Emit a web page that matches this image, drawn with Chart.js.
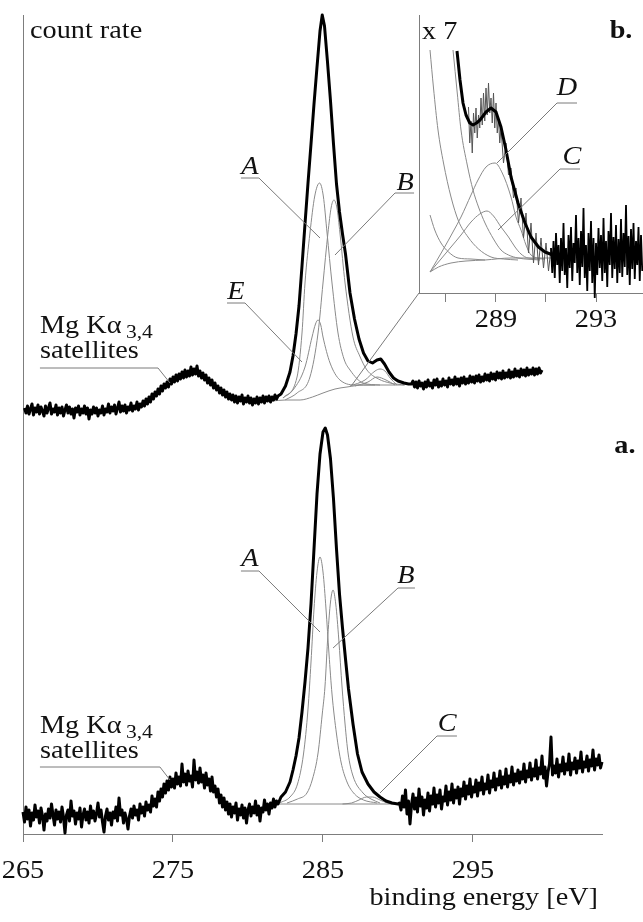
<!DOCTYPE html>
<html>
<head>
<meta charset="utf-8">
<script src="https://cdn.jsdelivr.net/npm/chart.js@4.4.1/dist/chart.umd.min.js"></script>
<style>
    html, body { margin: 0; padding: 0; background: #fff; }
    #wrap { position: relative; width: 643px; height: 922px; }
    #main { position: absolute; left: 0; top: 0; }
    #inset { position: absolute; left: 400px; top: 0; }
</style>
</head>
<body>
<div id="wrap">
    <canvas id="main" width="643" height="922"></canvas>
    <canvas id="inset" width="243" height="340"></canvas>
</div>
<script>
(function () {
    "use strict";

    // Axis ticks
    var energyTicks = [265, 275, 285, 295];
    var insetTicks = [287, 289, 291, 293];
    var insetTickLabels = [289, 293];

    // Spectrum b (upper trace): [binding energy eV, count rate]
    var upperCounts = [
        [265.1,426],[265.2,421],[265.3,428],[265.4,420],[265.5,425],[265.6,430],[265.7,419],[265.8,426],[265.9,422],[266.0,429],
        [266.1,420],[266.2,427],[266.3,423],[266.4,418],[266.5,428],[266.6,421],[266.7,426],[266.8,431],[266.9,420],[267.0,425],
        [267.1,422],[267.2,429],[267.3,419],[267.4,426],[267.5,421],[267.6,427],[267.7,418],[267.8,424],[267.9,429],[268.0,421],
        [268.1,427],[268.2,420],[268.3,425],[268.4,416],[268.5,426],[268.6,422],[268.7,428],[268.8,419],[268.9,425],[269.0,421],
        [269.1,428],[269.2,420],[269.3,426],[269.4,415],[269.5,424],[269.6,420],[269.7,427],[269.8,421],[269.9,426],[270.0,418],
        [270.1,424],[270.2,421],[270.3,428],[270.4,419],[270.5,425],[270.6,422],[270.7,430],[270.8,421],[270.9,427],[271.0,423],
        [271.1,429],[271.2,420],[271.3,426],[271.4,432],[271.5,422],[271.6,428],[271.7,423],[271.8,429],[271.9,421],[272.0,427],
        [272.1,424],[272.2,431],[272.3,423],[272.4,428],[272.5,425],[272.6,432],[272.7,424],[272.8,430],[272.9,427],[273.0,433],
        [273.1,428],[273.2,435],[273.3,430],[273.4,437],[273.5,432],[273.6,440],[273.7,435],[273.8,442],[273.9,438],[274.0,445],
        [274.1,440],[274.2,448],[274.3,443],[274.4,450],[274.5,446],[274.6,452],[274.7,447],[274.8,455],[274.9,450],[275.0,457],
        [275.1,452],[275.2,459],[275.3,453],[275.4,460],[275.5,455],[275.6,462],[275.7,456],[275.8,464],[275.9,457],[276.0,463],
        [276.1,458],[276.2,467],[276.3,459],[276.4,465],[276.5,460],[276.6,468],[276.7,458],[276.8,463],[276.9,456],[277.0,461],
        [277.1,454],[277.2,459],[277.3,451],[277.4,456],[277.5,449],[277.6,454],[277.7,446],[277.8,451],[277.9,444],[278.0,448],
        [278.1,441],[278.2,446],[278.3,439],[278.4,444],[278.5,437],[278.6,442],[278.7,435],[278.8,440],[278.9,434],[279.0,439],
        [279.1,432],[279.2,438],[279.3,431],[279.4,437],[279.5,433],[279.6,439],[279.7,430],[279.8,436],[279.9,432],[280.0,438],
        [280.1,431],[280.2,436],[280.3,429],[280.4,435],[280.5,431],[280.6,437],[280.7,430],[280.8,436],[280.9,432],[281.0,438],
        [281.1,431],[281.2,437],[281.3,433],[281.4,438],[281.5,432],[281.6,437],[281.7,434],[281.8,439],[281.9,435],[282.0,438],
        [282.2,440],[282.5,448],[282.8,462],[283.0,478],[283.2,500],[283.4,528],[283.6,568],[283.8,610],[284.0,651],[284.2,690],
        [284.4,730],[284.6,767],[284.8,803],[284.95,819],[285.1,808],[285.3,772],[285.5,733],[285.7,690],[285.9,650],[286.1,622],
        [286.3,600],[286.5,580],[286.8,541],[287.1,515],[287.4,495],[287.7,481],[288.0,473],[288.3,471],[288.6,474],[288.85,475],
        [289.1,470],[289.4,462],[289.7,456],[290.0,453],[290.4,451],[290.7,450],
        [290.9,450],[291.0,453],[291.1,447],[291.2,452],[291.3,446],[291.4,453],[291.5,448],[291.6,451],[291.7,445],[291.8,452],
        [291.9,447],[292.0,454],[292.1,448],[292.2,451],[292.3,446],[292.4,454],[292.5,449],[292.6,455],[292.7,447],[292.8,452],
        [292.9,448],[293.0,455],[293.1,449],[293.2,453],[293.3,447],[293.4,456],[293.5,450],[293.6,454],[293.7,449],[293.8,457],
        [293.9,450],[294.0,455],[294.1,448],[294.2,456],[294.3,451],[294.4,457],[294.5,450],[294.6,455],[294.7,451],[294.8,458],
        [294.9,452],[295.0,457],[295.1,451],[295.2,458],[295.3,453],[295.4,459],[295.5,452],[295.6,457],[295.7,453],[295.8,460],
        [295.9,454],[296.0,459],[296.1,453],[296.2,461],[296.3,455],[296.4,460],[296.5,454],[296.6,462],[296.7,456],[296.8,461],
        [296.9,455],[297.0,463],[297.1,456],[297.2,461],[297.3,457],[297.4,464],[297.5,456],[297.6,462],[297.7,457],[297.8,465],
        [297.9,458],[298.0,463],[298.1,457],[298.2,465],[298.3,459],[298.4,464],[298.5,458],[298.6,466],[298.7,459],[298.8,464],
        [298.9,460],[299.0,466],[299.1,459],[299.2,465],[299.3,460],[299.4,466],[299.5,461],[299.6,464]
    ];
    var upperA = [[282.33,436],[283.27,457],[283.6,501],[283.8,551],[284.13,601],[284.45,638],[284.77,651],[285.02,638],[285.27,601],[285.6,551],[286.0,501],[286.4,475],[286.8,464],[287.67,451],[288.8,449]];
    var upperB = [[282.47,434],[283.27,441],[284.13,457],[284.67,501],[285.0,551],[285.33,601],[285.55,627],[285.73,634],[285.93,626],[286.13,601],[286.47,551],[287.0,497],[287.45,478],[287.93,464],[288.7,455],[289.47,451],[290.47,449]];
    var upperE = [[282.33,436],[283.0,444],[283.8,467],[284.27,497],[284.5,510],[284.67,514],[284.85,509],[285.0,497],[285.47,471],[286.13,454],[287.27,449],[288.47,449]];
    var upperC = [[287.13,448],[288.0,452],[288.6,457],[289.2,454],[289.8,449]];
    var upperD = [[286.8,448],[287.8,454],[288.47,463],[288.8,465],[289.13,463],[289.47,456],[289.93,449]];
    var upperBackground = [[281.6,433],[282.5,434],[283.47,434],[284.3,437],[285.0,441],[285.8,445],[286.6,447],[287.7,449],[289.0,449],[290.4,449]];

    // Spectrum a (lower trace)
    var lowerCounts = [
        [265.0,22],[265.1,12],[265.2,27],[265.3,15],[265.4,24],[265.5,8],[265.6,21],[265.7,14],[265.8,29],[265.9,17],
        [266.0,23],[266.1,11],[266.2,26],[266.3,18],[266.4,4],[266.5,20],[266.6,13],[266.7,25],[266.8,16],[266.9,30],
        [267.0,19],[267.1,9],[267.2,24],[267.3,15],[267.4,22],[267.5,12],[267.6,27],[267.7,17],[267.8,1],[267.9,19],
        [268.0,24],[268.1,13],[268.2,33],[268.3,18],[268.4,23],[268.5,10],[268.6,21],[268.7,15],[268.8,26],[268.9,7],
        [269.0,19],[269.1,25],[269.2,14],[269.3,22],[269.4,11],[269.5,28],[269.6,16],[269.7,23],[269.8,13],[269.9,20],
        [270.0,31],[270.1,17],[270.2,24],[270.3,12],[270.4,2],[270.5,18],[270.6,25],[270.7,14],[270.8,21],[270.9,9],
        [271.0,22],[271.1,16],[271.2,27],[271.3,13],[271.4,36],[271.5,19],[271.6,24],[271.7,11],[271.8,21],[271.9,15],
        [272.0,5],[272.1,18],[272.2,25],[272.3,16],[272.4,28],[272.5,19],[272.6,24],[272.7,14],[272.8,30],[272.9,21],
        [273.0,27],[273.1,18],[273.2,32],[273.3,24],[273.4,29],[273.5,22],[273.6,38],[273.7,28],[273.8,35],[273.9,27],
        [274.0,42],[274.1,33],[274.2,45],[274.3,37],[274.4,50],[274.5,41],[274.6,53],[274.7,44],[274.8,57],[274.9,47],
        [275.0,55],[275.1,46],[275.2,61],[275.3,50],[275.4,57],[275.5,48],[275.6,70],[275.7,52],[275.8,60],[275.9,49],
        [276.0,63],[276.1,53],[276.2,58],[276.3,47],[276.4,74],[276.5,54],[276.6,62],[276.7,51],[276.8,66],[276.9,52],
        [277.0,59],[277.1,46],[277.2,61],[277.3,49],[277.4,55],[277.5,43],[277.6,57],[277.7,42],[277.8,48],[277.9,37],
        [278.0,45],[278.1,31],[278.2,39],[278.3,27],[278.4,36],[278.5,24],[278.6,32],[278.7,20],[278.8,30],[278.9,17],
        [279.0,27],[279.1,21],[279.2,31],[279.3,14],[279.4,25],[279.5,19],[279.6,29],[279.7,16],[279.8,26],[279.9,11],
        [280.0,24],[280.1,30],[280.2,18],[280.3,27],[280.4,21],[280.5,33],[280.6,19],[280.7,28],[280.8,13],[280.9,26],
        [281.0,22],[281.1,34],[281.2,24],[281.3,30],[281.4,20],[281.5,31],[281.6,26],[281.7,35],[281.8,27],[281.9,33],[282.0,30],
        [282.2,37],[282.5,42],[282.8,52],[283.0,64],[283.2,78],[283.4,96],[283.6,122],[283.8,152],[284.0,186],[284.2,230],
        [284.4,285],[284.6,340],[284.8,380],[285.0,402],[285.15,406],[285.3,399],[285.5,375],[285.7,335],[285.9,285],[286.1,240],
        [286.3,206],[286.5,175],[286.7,145],[287.0,110],[287.3,80],[287.6,62],[288.0,50],[288.4,42],[288.8,37],[289.2,33],
        [289.6,31],[290.0,30],
        [290.1,31],[290.2,24],[290.3,38],[290.4,27],[290.5,44],[290.6,20],[290.7,33],[290.8,10],[290.9,29],[291.0,40],
        [291.1,25],[291.2,36],[291.3,22],[291.4,45],[291.5,28],[291.6,37],[291.7,19],[291.8,34],[291.9,26],[292.0,41],
        [292.1,23],[292.2,38],[292.3,30],[292.4,46],[292.5,27],[292.6,39],[292.7,31],[292.8,44],[292.9,25],[293.0,37],
        [293.1,33],[293.2,48],[293.3,29],[293.4,42],[293.5,34],[293.6,50],[293.7,31],[293.8,44],[293.9,36],[294.0,47],
        [294.1,30],[294.2,45],[294.3,38],[294.4,52],[294.5,35],[294.6,48],[294.7,40],[294.8,55],[294.9,37],[295.0,47],
        [295.1,42],[295.2,54],[295.3,38],[295.4,51],[295.5,44],[295.6,57],[295.7,40],[295.8,50],[295.9,45],[296.0,59],
        [296.1,41],[296.2,53],[296.3,47],[296.4,61],[296.5,44],[296.6,55],[296.7,49],[296.8,63],[296.9,46],[297.0,57],
        [297.1,50],[297.2,65],[297.3,47],[297.4,58],[297.5,52],[297.6,67],[297.7,49],[297.8,60],[297.9,53],[298.0,64],
        [298.1,51],[298.2,62],[298.3,55],[298.4,70],[298.5,52],[298.6,63],[298.7,57],[298.8,71],[298.9,54],[299.0,65],
        [299.1,58],[299.2,74],[299.3,55],[299.4,66],[299.5,60],[299.6,78],[299.7,56],[299.8,67],[299.9,48],[300.0,62],
        [300.1,70],[300.2,97],[300.3,59],[300.4,68],[300.5,61],[300.6,75],[300.7,57],[300.8,69],[300.9,63],[301.0,77],
        [301.1,60],[301.2,70],[301.3,64],[301.4,80],[301.5,59],[301.6,71],[301.7,65],[301.8,76],[301.9,61],[302.0,73],
        [302.1,66],[302.2,82],[302.3,62],[302.4,72],[302.5,67],[302.6,78],[302.7,63],[302.8,74],[302.9,68],[303.0,84],
        [303.1,64],[303.2,75],[303.3,69],[303.4,79],[303.5,66],[303.6,72]
    ];
    var lowerA = [[282.1,31],[282.8,37],[283.3,50],[283.7,80],[284.0,125],[284.2,172],[284.4,225],[284.6,262],[284.8,277],[285.0,262],[285.2,225],[285.4,180],[285.6,140],[285.9,100],[286.2,72],[286.6,52],[287.1,40],[287.7,34],[288.6,31]];
    var lowerB = [[282.6,31],[283.3,35],[283.93,41],[284.3,55],[284.67,81],[284.95,120],[285.13,147],[285.33,200],[285.5,232],[285.67,244],[285.85,230],[286.05,195],[286.27,147],[286.47,110],[286.67,81],[287.0,58],[287.67,41],[288.2,35],[288.8,31]];
    var lowerC = [[286.3,30],[286.9,31],[287.4,34],[287.9,37],[288.3,37],[288.8,34],[289.3,31],[290.0,30]];
    var lowerBackground = [[282.0,30],[290.3,30]];

    // Inset b, count rate x 7
    var insetCounts = [
        [287.9,186],[287.95,150],[288.0,172],[288.05,140],[288.1,180],[288.15,160],[288.2,185],[288.25,155],[288.3,178],[288.35,165],
        [288.4,195],[288.45,168],[288.5,200],[288.55,172],[288.6,205],[288.65,178],[288.7,210],[288.75,180],[288.8,195],[288.85,170],
        [288.9,200],[288.95,165],[289.0,190],[289.05,160],[289.1,175],[289.15,150],[289.2,165],[289.3,130],[289.4,150],[289.5,118],
        [289.6,125],[289.7,95],[289.8,105],[289.9,70],[290.0,95],[290.1,55],[290.2,80],[290.3,40],[290.4,70],[290.5,30],
        [290.6,60],[290.7,28],[290.8,55],[290.9,25],[291.0,50],[291.1,22],[291.2,45],[291.25,20],[291.3,52],[291.35,15],
        [291.4,60],[291.45,28],[291.5,48],[291.55,10],[291.6,55],[291.65,22],[291.7,70],[291.75,18],[291.8,45],[291.85,5],
        [291.9,58],[291.95,25],[292.0,66],[292.05,12],[292.1,50],[292.15,30],[292.2,78],[292.25,20],[292.3,55],[292.35,8],
        [292.4,62],[292.45,26],[292.5,85],[292.55,15],[292.6,48],[292.65,2],[292.7,60],[292.75,22],[292.8,72],[292.85,10],
        [292.9,55],[292.95,-5],[293.0,50],[293.05,18],[293.1,65],[293.15,25],[293.2,58],[293.25,12],[293.3,75],[293.35,20],
        [293.4,52],[293.45,6],[293.5,62],[293.55,28],[293.6,80],[293.65,15],[293.7,56],[293.75,24],[293.8,68],[293.85,10],
        [293.9,54],[293.95,20],[294.0,74],[294.05,16],[294.1,60],[294.15,26],[294.2,88],[294.25,18],[294.3,57],[294.35,8],
        [294.4,64],[294.45,24],[294.5,70],[294.55,14],[294.6,52],[294.65,28],[294.7,66],[294.75,12],[294.8,58],[294.85,22]
    ];
    var insetFit = [[287.44,242],[287.56,213],[287.68,190],[287.8,178],[287.95,170],[288.08,168],[288.22,170],[288.36,173],[288.6,181],[288.8,185],[289.0,181],[289.2,166],[289.4,143],[289.6,116],[289.88,90],[290.16,70],[290.4,56],[290.7,46],[290.96,41],[291.48,36],[291.9,35]];
    var insetA = [[286.36,243],[286.5,205],[286.68,163],[286.9,130],[287.2,96],[287.5,72],[287.88,56],[288.3,44],[288.8,36],[289.3,34],[289.88,33]];
    var insetB = [[287.28,243],[287.45,200],[287.6,163],[287.85,128],[288.08,103],[288.3,86],[288.56,70],[288.9,54],[289.2,43],[289.5,38],[289.88,35],[290.76,33]];
    var insetE = [[286.36,78],[286.55,63],[286.8,50],[287.1,41],[287.48,35],[288.0,34],[288.56,33]];
    var insetC = [[286.36,21],[286.8,34],[287.2,46],[287.6,58],[288.0,71],[288.35,79],[288.64,82],[288.9,77],[289.2,66],[289.5,56],[289.76,46],[290.0,39],[290.28,35],[290.96,34]];
    var insetD = [[286.36,21],[286.9,44],[287.3,62],[287.6,76],[288.0,98],[288.28,113],[288.6,126],[288.96,130],[289.25,120],[289.6,96],[289.8,76],[290.0,63],[290.2,48],[290.4,38],[290.96,34]];
    var insetBackground = [[286.36,21],[286.7,26],[287.2,30],[287.8,32],[288.56,33],[289.6,35],[290.5,35],[291.56,35]];

    var SERIF = "'Liberation Serif', 'Times New Roman', serif";
    var REG = '25px ' + SERIF;
    var ITAL = 'italic 25px ' + SERIF;
    var BOLD = 'bold 25px ' + SERIF;
    var STRETCH = 1.13;
    var AXIS_GREY = '#7d7d7d';

    var toPoints = function (pairs) {
        return pairs.map(function (p) { return { x: p[0], y: p[1] }; });
    };

    var measured = function (pairs, width) {
        return {
            data: toPoints(pairs),
            borderColor: '#000',
            borderWidth: width,
            borderJoinStyle: 'round',
            pointRadius: 0,
            clip: false,
            order: 0
        };
    };

    var component = function (pairs) {
        return {
            data: toPoints(pairs),
            borderColor: '#8a8a8a',
            borderWidth: 1,
            cubicInterpolationMode: 'monotone',
            pointRadius: 0,
            clip: false,
            order: 2
        };
    };

    // text is drawn a little wider than Times to follow the scanned figure
    var drawText = function (ctx, text, px, py, align, font, sub) {
        ctx.save();
        ctx.font = font;
        ctx.fillStyle = '#111';
        ctx.textAlign = align;
        ctx.textBaseline = 'alphabetic';
        ctx.translate(px, py);
        ctx.scale(STRETCH, 1);
        ctx.fillText(text, 0, 0);
        if (sub) {
            var w = ctx.measureText(text).width;
            ctx.font = '19px ' + SERIF;
            ctx.textAlign = 'left';
            ctx.fillText(sub, w + 4, 5);
        }
        ctx.restore();
    };

    var figureText = function (notes) {
        return {
            id: 'figureText',
            afterDraw: function (chart) {
                var ctx = chart.ctx;
                var xs = chart.scales.x;
                var ys = chart.scales.y;
                var area = chart.chartArea;
                ctx.save();
                ctx.strokeStyle = '#7a7a7a';
                ctx.lineWidth = 1;
                notes.leaders.forEach(function (pts) {
                    ctx.beginPath();
                    pts.forEach(function (p, i) {
                        var px = xs.getPixelForValue(p[0]);
                        var py = ys.getPixelForValue(p[1]);
                        if (i === 0) {
                            ctx.moveTo(px, py);
                        } else {
                            ctx.lineTo(px, py);
                        }
                    });
                    ctx.stroke();
                });
                notes.labels.forEach(function (l) {
                    drawText(ctx, l.text, xs.getPixelForValue(l.x), ys.getPixelForValue(l.y), l.align || 'center', l.font, l.sub);
                });
                notes.ticks.forEach(function (v) {
                    drawText(ctx, String(v), xs.getPixelForValue(v), area.bottom + notes.tickOffset, 'center', REG);
                });
                if (notes.title) {
                    drawText(ctx, notes.title, area.right - 4, area.bottom + 71, 'right', REG);
                }
                ctx.restore();
            }
        };
    };

    var axes = function (xMin, xMax, yMax, tickValues, tickLength) {
        return {
            x: {
                type: 'linear',
                min: xMin,
                max: xMax,
                afterBuildTicks: function (scale) {
                    scale.ticks = tickValues.map(function (v) { return { value: v }; });
                },
                ticks: { display: false },
                grid: { drawOnChartArea: false, tickLength: tickLength, color: AXIS_GREY, lineWidth: 1 },
                border: { color: AXIS_GREY, width: 1 }
            },
            y: {
                type: 'linear',
                min: 0,
                max: yMax,
                ticks: { display: false },
                grid: { display: false, drawTicks: false },
                border: { color: AXIS_GREY, width: 1 }
            }
        };
    };

    // Main spectra
    new Chart(document.getElementById('main').getContext('2d'), {
        type: 'line',
        data: {
            datasets: [
                measured(upperCounts, 3),
                measured(lowerCounts, 3),
                component(upperA), component(upperB), component(upperE),
                component(upperC), component(upperD), component(upperBackground),
                component(lowerA), component(lowerB), component(lowerC), component(lowerBackground)
            ]
        },
        options: {
            responsive: false,
            animation: false,
            events: [],
            layout: { padding: { left: 23, top: 15, right: 41, bottom: 80 } },
            plugins: { legend: { display: false }, tooltip: { enabled: false } },
            scales: axes(265, 303.6, 819, energyTicks, 8)
        },
        plugins: [figureText({
            leaders: [
                [[279.53,656],[280.73,656],[284.8,596]],
                [[291.07,641],[289.8,641],[285.8,579]],
                [[278.6,531],[279.8,531],[283.6,472]],
                [[266.13,466],[274.0,466],[274.8,451]],
                [[291.4,541],[286.93,449]],
                [[279.53,263],[280.73,263],[284.8,202]],
                [[291.13,246],[290.0,246],[285.67,186]],
                [[293.93,98],[292.6,98],[288.8,41]],
                [[266.13,67],[274.13,67],[274.8,54]]
            ],
            labels: [
                { text: 'count rate', x: 265.47, y: 796, align: 'left', font: REG },
                { text: 'b.', x: 304.87, y: 796, font: BOLD },
                { text: 'a.', x: 305.13, y: 381, font: BOLD },
                { text: 'A', x: 280.13, y: 660, font: ITAL },
                { text: 'B', x: 290.47, y: 644, font: ITAL },
                { text: 'E', x: 279.2, y: 535, font: ITAL },
                { text: 'Mg K\u03b1', x: 266.13, y: 501, align: 'left', font: REG, sub: '3,4' },
                { text: 'satellites', x: 266.13, y: 476, align: 'left', font: REG },
                { text: 'A', x: 280.13, y: 268, font: ITAL },
                { text: 'B', x: 290.53, y: 251, font: ITAL },
                { text: 'C', x: 293.27, y: 103, font: ITAL },
                { text: 'Mg K\u03b1', x: 266.13, y: 101, align: 'left', font: REG, sub: '3,4' },
                { text: 'satellites', x: 266.13, y: 76, align: 'left', font: REG }
            ],
            ticks: energyTicks,
            tickOffset: 44,
            title: 'binding energy [eV]'
        })]
    });

    // Inset, C 1s satellite region of spectrum b
    new Chart(document.getElementById('inset').getContext('2d'), {
        type: 'line',
        data: {
            datasets: [
                measured(insetFit, 3),
                {
                    data: toPoints(insetCounts),
                    borderColor: '#333',
                    borderWidth: 1,
                    segment: {
                        borderWidth: function (ctx) { return ctx.p0.parsed.x >= 291.2 ? 1.8 : 1; },
                        borderColor: function (ctx) { return ctx.p0.parsed.x >= 291.2 ? '#000' : '#555'; }
                    },
                    pointRadius: 0,
                    clip: false,
                    order: 1
                },
                component(insetA), component(insetB), component(insetE),
                component(insetC), component(insetD), component(insetBackground)
            ]
        },
        options: {
            responsive: false,
            animation: false,
            events: [],
            layout: { padding: { left: 19, top: 15, right: 0, bottom: 38 } },
            plugins: { legend: { display: false }, tooltip: { enabled: false } },
            scales: axes(285.92, 294.88, 278, insetTicks, 9)
        },
        plugins: [figureText({
            leaders: [
                [[292.24,190],[291.44,190],[289.04,130]],
                [[292.36,124],[291.56,124],[289.08,63]]
            ],
            labels: [
                { text: 'x 7', x: 286.04, y: 254, align: 'left', font: REG },
                { text: 'D', x: 291.84, y: 198, font: ITAL },
                { text: 'C', x: 292.04, y: 129, font: ITAL }
            ],
            ticks: insetTickLabels,
            tickOffset: 34
        })]
    });
})();
</script>
</body>
</html>
